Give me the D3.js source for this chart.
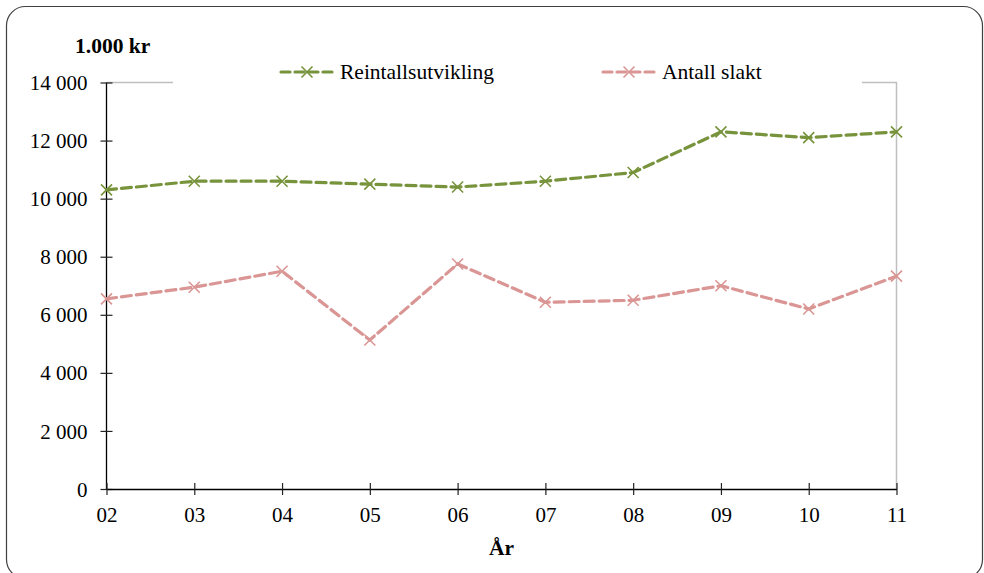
<!DOCTYPE html>
<html><head><meta charset="utf-8">
<script src="https://cdn.jsdelivr.net/npm/d3@7"></script>
<style>body{margin:0;background:#fff}svg{display:block}text{font-family:"Liberation Serif","Times New Roman",serif}</style>
</head><body><svg id="c" width="984" height="573"></svg>
<script>
const years = ["02","03","04","05","06","07","08","09","10","11"];
const reintall = [10300,10600,10600,10500,10400,10600,10900,12300,12100,12300];
const slakt = [6550,6950,7500,5130,7750,6430,6500,7000,6200,7330];
const yTicks = [0,2000,4000,6000,8000,10000,12000,14000];
const seriesNames = ["Reintallsutvikling","Antall slakt"];
const colors = ["#77933c","#d99694"];

const svg = d3.select("#c");
svg.append("rect").attr("x",6.5).attr("y",6.5).attr("width",976).attr("height",572).attr("rx",19)
  .attr("fill","#fff").attr("stroke","#404040").attr("stroke-width",1.2);

const L=106.5, R=896.5, T=82.5, B=489;
const x = d3.scalePoint().domain(years).range([L,R]);
const y = d3.scaleLinear().domain([0,14000]).range([B,T]);

svg.append("path").attr("d",`M${L},${T}H${R}V${B}`).attr("fill","none").attr("stroke","#bfbfbf").attr("stroke-width",1.5);

const lg = svg.append("g");
lg.append("rect").attr("x",173).attr("y",58).attr("width",689).attr("height",40).attr("fill","#fff");

const fmt = d => d3.format(",")(d).replace(/,/g," ");
const ya = svg.append("g").attr("transform",`translate(${L},0)`)
  .call(d3.axisLeft(y).tickValues(yTicks).tickFormat(fmt).tickSizeInner(6).tickSizeOuter(0).tickPadding(13));
ya.selectAll(".tick line").attr("x1",6).attr("x2",-6);
const xa = svg.append("g").attr("transform",`translate(0,${B})`)
  .call(d3.axisBottom(x).tickSizeInner(6).tickSizeOuter(0).tickPadding(12));
xa.selectAll(".tick line").attr("y1",-6).attr("y2",6);
[ya,xa].forEach(a=>{
  a.select(".domain").attr("stroke","#000").attr("stroke-width",1.3);
  a.selectAll(".tick line").attr("stroke","#222").attr("stroke-width",1.2);
  a.selectAll("text").attr("font-family","Liberation Serif").attr("font-size",21).attr("fill","#000");
});
ya.selectAll("text").attr("dy","0.34em");
ya.select(".domain").attr("d",`M0,${B}V${T}`);

svg.append("text").attr("x",75).attr("y",53).attr("font-weight","bold").attr("font-size",21.5).text("1.000 kr");
svg.append("text").attr("x",(L+R)/2).attr("y",555).attr("text-anchor","middle").attr("font-weight","bold").attr("font-size",21.5).text("År");

function cross(g, cx, cy, col){
  const s=5.5;
  g.append("path").attr("d",`M${cx-s},${cy-s}L${cx+s},${cy+s}M${cx-s},${cy+s}L${cx+s},${cy-s}`)
    .attr("stroke",col).attr("stroke-width",1.6).attr("fill","none");
}

const line = d3.line().x((d,i)=>x(years[i])).y(d=>y(d));
[reintall, slakt].forEach((vals,k)=>{
  const g = svg.append("g");
  g.append("path").datum(vals).attr("d",line).attr("fill","none").attr("stroke",colors[k])
    .attr("stroke-width",3.2).attr("stroke-dasharray","10,5").attr("stroke-linecap","round");
  vals.forEach((v,i)=>cross(g, x(years[i]), y(v), colors[k]));
});

const legX=[281,603];
seriesNames.forEach((n,k)=>{
  const g=lg.append("g");
  g.append("line").attr("x1",legX[k]).attr("x2",legX[k]+52).attr("y1",72).attr("y2",72)
    .attr("stroke",colors[k]).attr("stroke-width",3.2).attr("stroke-dasharray","9,5").attr("stroke-linecap","round");
  cross(g, legX[k]+26, 72, colors[k]);
  g.append("text").attr("x",legX[k]+59).attr("y",79).attr("font-size",21.5).text(n);
});
</script></body></html>
